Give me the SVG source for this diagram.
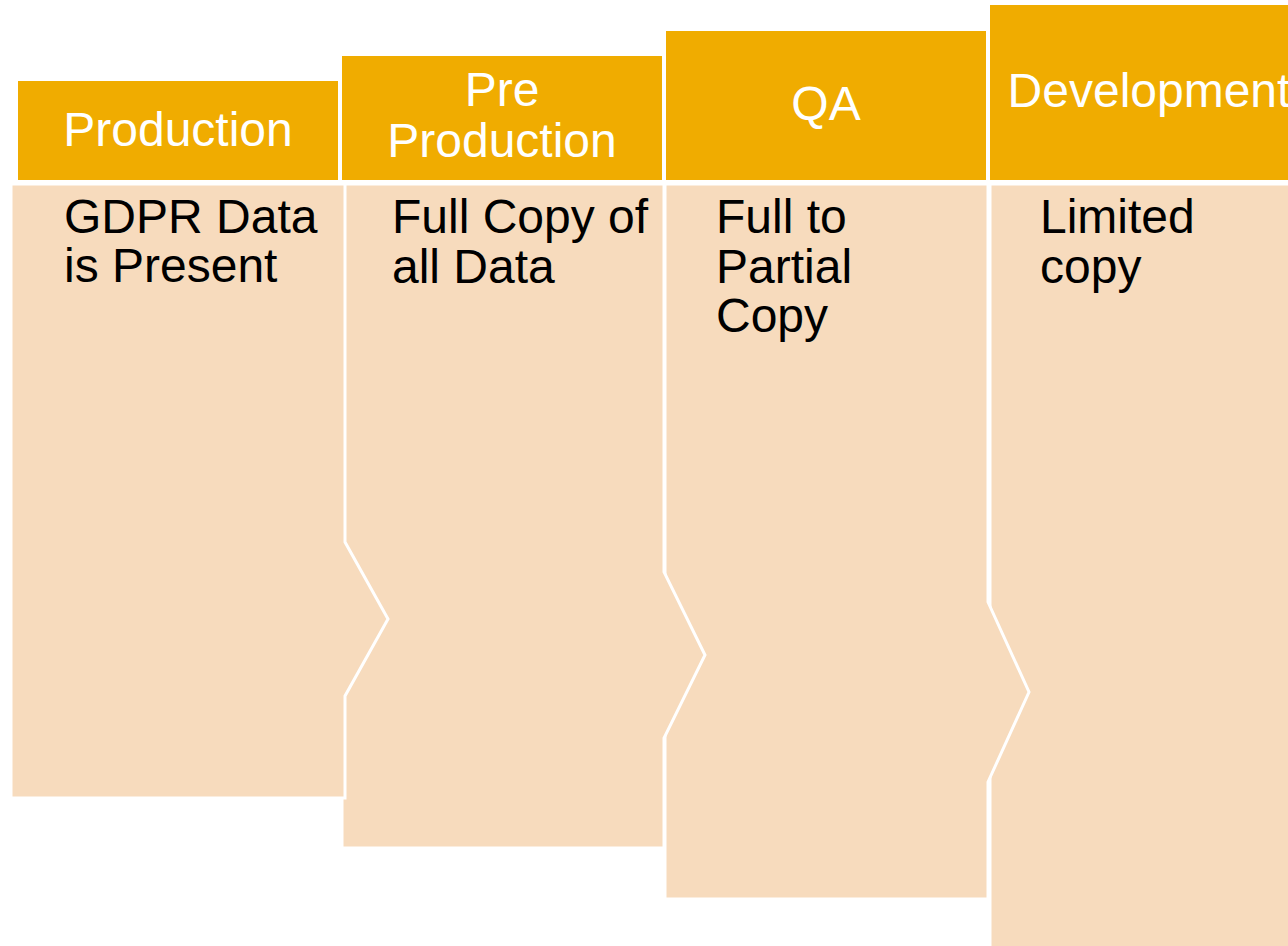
<svg xmlns="http://www.w3.org/2000/svg" width="1288" height="946" viewBox="0 0 1288 946">
<style>
.hdr{fill:#F0AC00;}
.body{fill:#F7DBBD;stroke:#FFFFFF;stroke-width:3;stroke-linejoin:miter;}
.ht{font-family:"Liberation Sans",Arial,sans-serif;font-size:48px;fill:#FFFFFF;text-anchor:middle;}
.bt{font-family:"Liberation Sans",Arial,sans-serif;font-size:48px;fill:#000000;}
</style>
<rect x="0" y="0" width="1288" height="946" fill="#FFFFFF"/>
<g id="development">
<rect class="hdr" x="990" y="5" width="320" height="175"/>
<rect class="body" x="990" y="184" width="320" height="780"/>
<text class="bt" x="1040" y="233">Limited</text>
<text class="bt" x="1040" y="283">copy</text>
<text class="ht" x="1149" y="107">Development</text>
</g>
<g id="qa">
<rect class="hdr" x="666" y="31" width="320" height="149"/>
<polygon class="body" points="665,184 988,184 988,602 1029,692 988,782 988,899 665,899"/>
<text class="bt" x="716" y="233">Full to</text>
<text class="bt" x="716" y="283">Partial</text>
<text class="bt" x="716" y="332">Copy</text>
<text class="ht" x="826" y="120">QA</text>
</g>
<g id="preproduction">
<rect class="hdr" x="342" y="56" width="320" height="124"/>
<polygon class="body" points="342,184 664,184 664,572 705,655 664,738 664,848 342,848"/>
<text class="bt" x="392" y="233">Full Copy of</text>
<text class="bt" x="392" y="283">all Data</text>
<text class="ht" x="502" y="106">Pre</text>
<text class="ht" x="502" y="157">Production</text>
</g>
<g id="production">
<rect class="hdr" x="18" y="81" width="320" height="99"/>
<polygon class="body" points="11,184 345,184 345,542 388,619 345,696 345,798 11,798"/>
<text class="bt" x="64" y="233">GDPR Data</text>
<text class="bt" x="64" y="282">is Present</text>
<text class="ht" x="178" y="146">Production</text>
</g>
<g id="connectors"></g>
</svg>
